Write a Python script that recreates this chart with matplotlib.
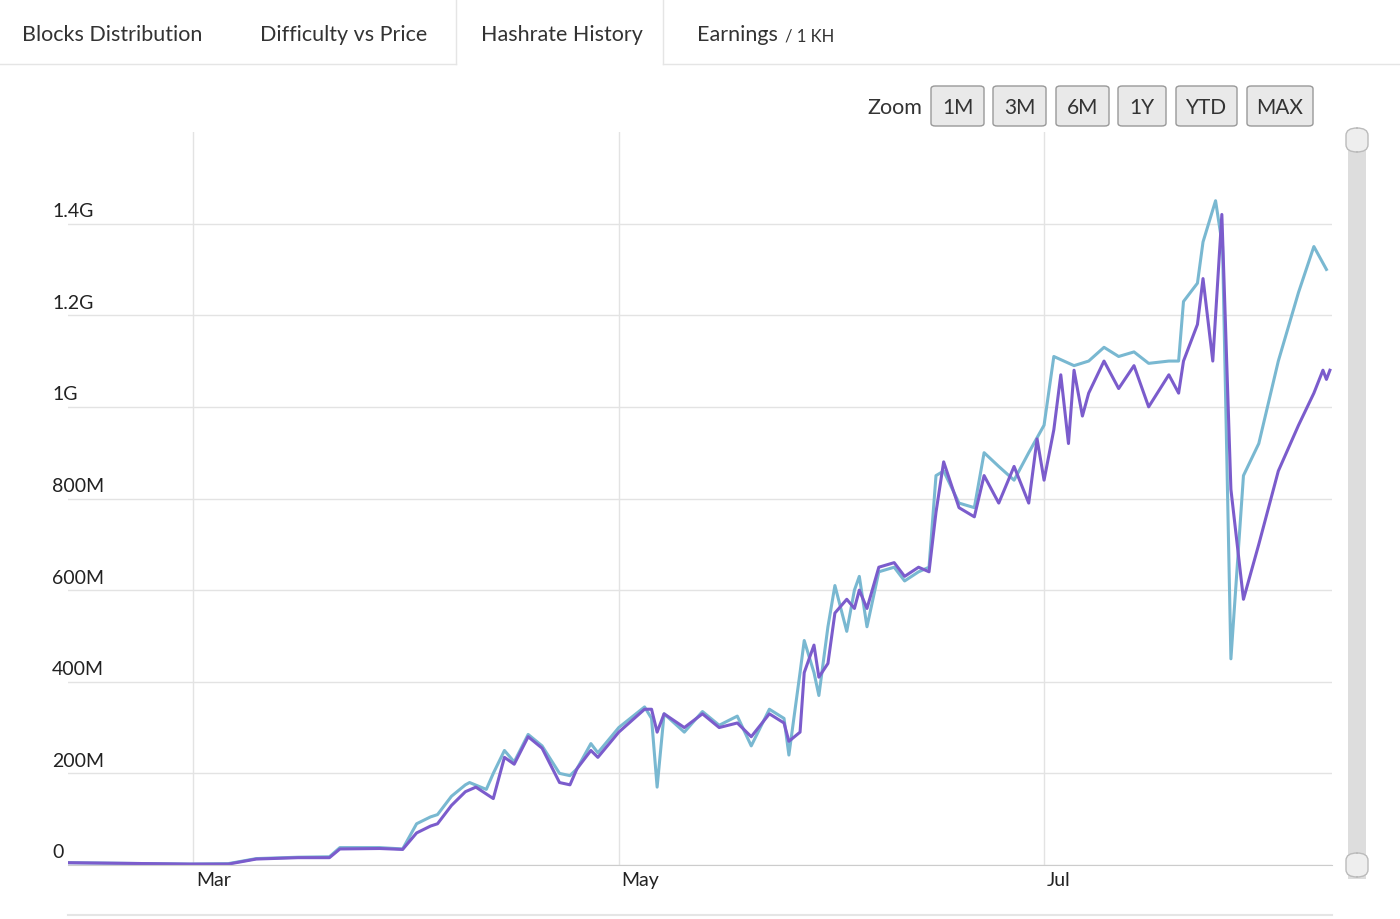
import numpy as np
import matplotlib
matplotlib.use("Agg")
import matplotlib.pyplot as plt
import matplotlib.dates as mdates
from matplotlib.patches import FancyBboxPatch, Rectangle
import datetime as dt

plt.rcParams["font.family"] = "Lato"

start = dt.datetime(2021, 2, 11)
cyan_days = [0,17.5,23,27,33,37.5,39,44.7,48,50,52,53,55,57,57.6,60,61,62.6,64,66,68,70.5,72,73,75,76,79,82.7,83.7,84.5,85.5,88.4,91,93.4,96,98,100.6,102.7,103.4,105,105.6,107,107.7,109,110,111.7,112.8,113.5,114.6,116.3,118.5,120,122,123.5,124.5,125.6,127.8,130,131.4,133.5,135.7,137.8,140,141.4,144.3,146.4,148.6,150.7,152.9,155,157.9,159.3,160,162,162.8,164.6,165.6,166.8,168.6,170.8,173.6,176.5,178.7,180.5]
cyan_vals = [5,2,3,14,17,18,38,38,35,90,105,110,150,175,180,165,200,250,225,285,260,200,195,210,265,245,300,345,320,170,330,290,335,305,325,260,340,320,240,420,490,420,370,520,610,510,600,630,520,640,650,620,640,650,850,860,790,780,900,870,840,900,960,1110,1090,1100,1130,1110,1120,1095,1100,1100,1230,1270,1360,1450,1350,450,850,920,1100,1250,1350,1300]
pur_days = [0,17.5,23,27,33,37.5,39,44.7,48,50,52,53,55,57,58.5,60,61,62.6,64,66,68,70.5,72,73,75,76,79,82.7,83.7,84.5,85.5,88.4,91,93.4,96,98,100.6,102.7,103.4,105,105.6,107,107.7,109,110,111.7,112.8,113.5,114.6,116.3,118.5,120,122,123.5,124.5,125.6,127.8,130,131.4,133.5,135.7,137.8,139,140,141.4,142.4,143.5,144.3,145.5,146.4,148.6,150.7,152.9,155,157.9,159.3,160,162,162.8,164.2,165.5,166.8,168.6,170.8,173.6,176.5,178.7,180,180.5,181]
pur_vals = [5,2,2,13,16,16,35,36,34,70,85,90,130,160,170,155,145,235,220,280,255,180,175,210,250,235,290,340,340,290,330,300,330,300,310,280,330,310,270,290,420,480,410,440,550,580,560,600,560,650,660,630,650,640,770,880,780,760,850,790,870,790,930,840,950,1070,920,1080,980,1030,1100,1040,1090,1000,1070,1030,1100,1180,1280,1100,1420,820,580,700,860,960,1030,1080,1060,1080]

y_ticks = [0, 200e6, 400e6, 600e6, 800e6, 1000e6, 1200e6, 1400e6]
y_labels = ["0", "200M", "400M", "600M", "800M", "1G", "1.2G", "1.4G"]
x_ticks = [dt.datetime(2021, 3, 1), dt.datetime(2021, 5, 1), dt.datetime(2021, 7, 1)]
x_labels = ["Mar", "May", "Jul"]
tabs = ["Blocks Distribution", "Difficulty vs Price", "Hashrate History", "Earnings"]
zoom_btns = ["1M", "3M", "6M", "1Y", "YTD", "MAX"]

W, H = 1400, 920
fig = plt.figure(figsize=(14, 9.2), dpi=100)
fig.patch.set_facecolor("white")

def fx(px): return px / W
def fy(py): return 1 - py / H

ax = fig.add_axes([fx(68), fy(866), fx(1332) - fx(68), fy(133) - fy(866)])
cd = [start + dt.timedelta(days=d) for d in cyan_days]
pdd = [start + dt.timedelta(days=d) for d in pur_days]
ax.plot(cd, np.array(cyan_vals) * 1e6, color="#79b8d1", lw=2.2)
ax.plot(pdd, np.array(pur_vals) * 1e6, color="#7b5ccc", lw=2.2)
ax.set_xlim(start, start + dt.timedelta(days=181.3))
ax.set_ylim(0, 1.6e9)
for s in ax.spines.values():
    s.set_visible(False)
ax.spines["bottom"].set_visible(True)
ax.spines["bottom"].set_color("#cccccc")
ax.set_yticks(y_ticks)
ax.set_yticklabels([])
ax.set_xticks(x_ticks)
ax.set_xticklabels([])
ax.tick_params(length=0)
for t in y_ticks:
    ax.axhline(t, color="#e3e3e3", lw=1, zorder=0)
for t in x_ticks:
    ax.axvline(t, color="#e3e3e3", lw=1, zorder=0)
for t, l in zip(y_ticks, y_labels):
    ax.text(-16 / 1264, t + 0.01e9, l, transform=ax.get_yaxis_transform(), ha="left", va="bottom", fontsize=14, color="#222")
for t, l in zip(x_ticks, x_labels):
    ax.annotate(l, (mdates.date2num(t), 0), xycoords=("data", "axes fraction"), xytext=(2, -4), textcoords="offset points", ha="left", va="top", fontsize=14, color="#222")

# Tabs
tab_x = [22, 260, 481, 697]
for x, t in zip(tab_x, tabs):
    fig.text(fx(x), fy(35), t, fontsize=15.5, color="#333", va="center")
fig.text(fx(785), fy(36), "/ 1 KH", fontsize=12, color="#333", va="center")
fig.add_artist(plt.Line2D([0, fx(456)], [fy(65), fy(65)], color="#e5e5e5", lw=1))
fig.add_artist(plt.Line2D([fx(663), 1], [fy(65), fy(65)], color="#e5e5e5", lw=1))
fig.add_artist(plt.Line2D([fx(456), fx(456)], [fy(0), fy(65)], color="#e5e5e5", lw=1))
fig.add_artist(plt.Line2D([fx(663), fx(663)], [fy(0), fy(65)], color="#e5e5e5", lw=1))

# Zoom buttons
fig.text(fx(867), fy(108), "Zoom", fontsize=15.5, color="#333", va="center")
bx = [(931, 984), (993, 1046), (1056, 1109), (1118, 1166), (1176, 1237), (1247, 1313)]
for (x0, x1), lbl in zip(bx, zoom_btns):
    fig.add_artist(FancyBboxPatch((fx(x0), fy(127)), fx(x1 - x0), fy(0) - fy(40),
                                  boxstyle="round,pad=0,rounding_size=0.003",
                                  fc="#e9e9e9", ec="#999", lw=1, transform=fig.transFigure))
    fig.text(fx((x0 + x1) / 2), fy(108), lbl, fontsize=15, color="#333", ha="center", va="center")

# Scrollbar
fig.add_artist(Rectangle((fx(1348), fy(880)), fx(18), fy(133) - fy(880), fc="#dddddd", ec="none", transform=fig.transFigure))
for yy in (141, 866):
    fig.add_artist(FancyBboxPatch((fx(1346), fy(yy + 12)), fx(22), fy(0) - fy(24),
                                  boxstyle="round,pad=0,rounding_size=0.008",
                                  fc="#eeeeee", ec="#bbbbbb", lw=1, transform=fig.transFigure))
fig.add_artist(plt.Line2D([fx(68), fx(1332)], [fy(916), fy(916)], color="#e5e5e5", lw=1.5))

fig.savefig("out.png", dpi=100)
